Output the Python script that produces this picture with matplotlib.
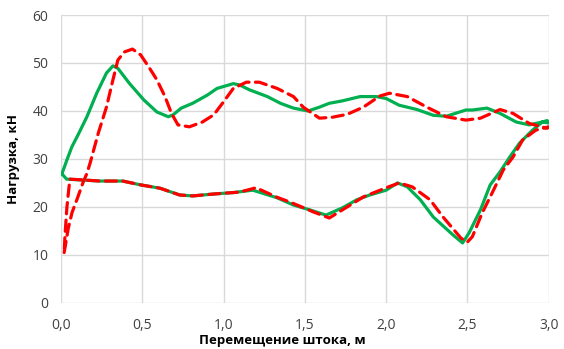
import matplotlib
matplotlib.use('Agg')
import matplotlib.pyplot as plt

plt.rcParams['font.family'] = ['Open Sans', 'DejaVu Sans']

# green loop: forward stroke then return stroke
green_x = [0.006, 0.037, 0.067, 0.105, 0.16, 0.22, 0.28, 0.32, 0.35, 0.42, 0.51, 0.59, 0.66, 0.69,
           0.74, 0.81, 0.90, 0.96, 1.06, 1.10, 1.16, 1.27, 1.35, 1.43, 1.52, 1.59, 1.65, 1.73,
           1.84, 1.94, 2.00, 2.08, 2.19, 2.29, 2.37, 2.49, 2.53, 2.62, 2.70, 2.80, 2.88, 2.96, 3.0,
           2.99, 2.96, 2.90, 2.82, 2.76, 2.70, 2.64, 2.58, 2.51, 2.47, 2.41, 2.29, 2.21, 2.13,
           2.07, 2.00, 1.90, 1.82, 1.73, 1.63, 1.53, 1.43, 1.33, 1.18, 1.06, 0.94, 0.81, 0.73,
           0.61, 0.49, 0.38, 0.24, 0.035, 0.006]
green_y = [26.9, 29.8, 32.5, 35.0, 38.8, 43.7, 47.9, 49.4, 48.9, 45.8, 42.3, 39.8, 38.8, 39.2,
           40.6, 41.6, 43.3, 44.7, 45.7, 45.4, 44.4, 43.0, 41.6, 40.6, 40.0, 40.8, 41.6, 42.1,
           43.0, 43.0, 42.6, 41.2, 40.3, 39.1, 38.9, 40.2, 40.2, 40.6, 39.5, 37.7, 37.1, 37.7, 37.5,
           38.0, 37.7, 36.0, 33.3, 30.4, 27.3, 24.6, 19.4, 14.6, 12.5, 14.2, 17.9, 21.5, 24.2,
           25.0, 23.5, 22.5, 21.5, 19.8, 18.3, 19.4, 20.4, 21.9, 23.5, 23.0, 22.7, 22.3, 22.5,
           23.9, 24.6, 25.4, 25.4, 25.8, 26.9]

# red loop (dashed)
red_x = [0.02, 0.045, 0.068, 0.098, 0.135, 0.16, 0.18, 0.23, 0.28, 0.32, 0.35, 0.39, 0.44, 0.49,
         0.54, 0.59, 0.64, 0.68, 0.72, 0.79, 0.87, 0.94, 1.00, 1.06, 1.14, 1.22, 1.33, 1.43,
         1.49, 1.59, 1.67, 1.76, 1.86, 1.96, 2.02, 2.13, 2.25, 2.37, 2.49, 2.58, 2.70, 2.78,
         2.88, 2.99, 3.0,
         2.92, 2.84, 2.78, 2.72, 2.66, 2.59, 2.53, 2.50, 2.46, 2.35, 2.27, 2.16, 2.08, 2.00,
         1.86, 1.76, 1.65, 1.55, 1.41, 1.33, 1.20, 1.10, 0.94, 0.81, 0.73, 0.61, 0.49, 0.38,
         0.24, 0.055, 0.037, 0.025, 0.02]
red_y = [10.5, 15.5, 18.8, 21.5, 25.0, 27.0, 29.2, 35.4, 40.8, 46.5, 50.6, 52.3, 52.9, 51.7,
         49.2, 46.5, 43.0, 39.5, 37.1, 36.7, 37.7, 39.2, 41.9, 44.7, 46.0, 46.0, 44.7, 43.0,
         40.8, 38.5, 38.7, 39.3, 40.8, 43.1, 43.7, 43.0, 40.8, 38.8, 38.1, 38.5, 40.3, 39.5,
         37.4, 36.4, 36.7,
         36.0, 34.0, 30.4, 27.7, 23.5, 18.7, 13.8, 12.7, 13.5, 17.9, 21.5, 24.2, 25.0, 24.0,
         22.1, 20.0, 17.7, 19.0, 21.0, 22.0, 24.0, 23.1, 22.7, 22.3, 22.5, 23.9, 24.6, 25.4,
         25.4, 25.8, 20.0, 14.0, 10.5]

x_ticks = [0.0, 0.5, 1.0, 1.5, 2.0, 2.5, 3.0]
x_tick_labels = ['0,0', '0,5', '1,0', '1,5', '2,0', '2,5', '3,0']
y_ticks = [0, 10, 20, 30, 40, 50, 60]

fig = plt.figure(figsize=(5.64, 3.49), dpi=100)
ax = fig.add_axes([0.108, 0.132, 0.865, 0.825])

ax.plot(green_x, green_y, color='#00B050', lw=2.3, solid_joinstyle='round', solid_capstyle='round', zorder=3)
ax.plot(red_x, red_y, color='#FF0000', lw=2.3, dashes=(3.5, 2.0), dash_capstyle='round', zorder=4)

ax.set_xlim(0, 3.0)
ax.set_ylim(0, 60)
ax.set_xticks(x_ticks)
ax.set_xticklabels(x_tick_labels)
ax.set_yticks(y_ticks)
ax.grid(True, color='#D9D9D9', lw=1.0)
ax.set_axisbelow(True)
for s in ax.spines.values():
    s.set_visible(False)
ax.tick_params(length=0, labelsize=10, colors='#404040')
ax.tick_params(axis='x', pad=11)
ax.tick_params(axis='y', pad=9)

ax.set_xlabel('Перемещение штока, м', fontsize=9.5, fontweight='bold')
ax.set_ylabel('Нагрузка, кН', fontsize=9.5, fontweight='bold')
ax.xaxis.set_label_coords(0.453, -0.107)
ax.yaxis.set_label_coords(-0.084, 0.5)

fig.savefig('out.png', dpi=100)
